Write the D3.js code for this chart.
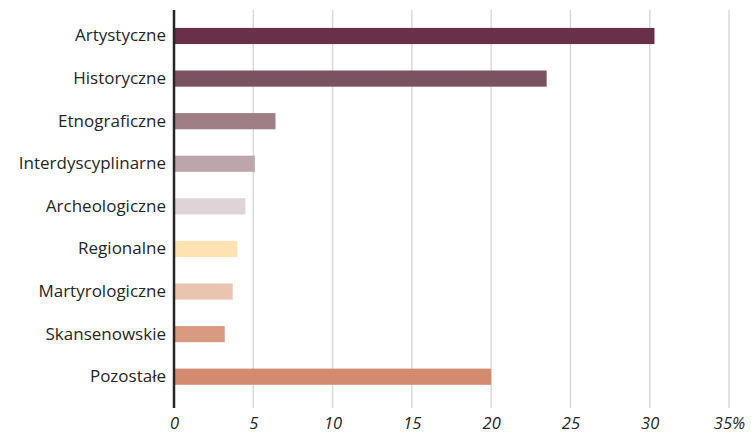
<!DOCTYPE html>
<html>
<head>
<meta charset="utf-8">
<script src="https://cdn.jsdelivr.net/npm/d3@7"></script>
<style>
  html, body { margin: 0; padding: 0; background: #fff; }
  svg { display: block; }
</style>
</head>
<body>
<div id="chart"></div>
<script>
// Museum types and their share (%)
const categories = ['Artystyczne', 'Historyczne', 'Etnograficzne', 'Interdyscyplinarne',
  'Archeologiczne', 'Regionalne', 'Martyrologiczne', 'Skansenowskie', 'Pozostałe'];
const values = [30.3, 23.5, 6.4, 5.1, 4.5, 4.0, 3.7, 3.2, 20.0];
const barColors = ['#69304a', '#7b5262', '#a07e86', '#bca6ab', '#ded4d7',
  '#fee2b2', '#e9c4af', '#d99a82', '#d48a6e'];
const tickValues = [0, 5, 10, 15, 20, 25, 30, 35];

const width = 751;
const height = 434;
const margin = { top: 10, right: 22, bottom: 26, left: 174 };
const fontFamily = '"Open Sans", "DejaVu Sans", sans-serif';

const svg = d3.select('#chart').append('svg')
  .attr('width', width)
  .attr('height', height)
  .style('font-family', fontFamily);

const x = d3.scaleLinear()
  .domain([0, 35])
  .range([margin.left, 729]);

const y = d3.scaleBand()
  .domain(categories)
  .range([14.7, 398])
  .paddingInner(0.62)
  .paddingOuter(0.31);

// Vertical gridlines
svg.append('g')
  .selectAll('line')
  .data(tickValues.filter(d => d > 0))
  .join('line')
  .attr('x1', d => x(d))
  .attr('x2', d => x(d))
  .attr('y1', margin.top)
  .attr('y2', 408)
  .attr('stroke', '#d9d9d9')
  .attr('stroke-width', 1.5);

// Bars
svg.append('g')
  .selectAll('rect')
  .data(values)
  .join('rect')
  .attr('x', x(0))
  .attr('y', (d, i) => y(categories[i]))
  .attr('width', d => x(d) - x(0))
  .attr('height', y.bandwidth())
  .attr('fill', (d, i) => barColors[i]);

// Category axis (left)
const yAxis = svg.append('g')
  .attr('transform', `translate(${x(0)},0)`)
  .call(d3.axisLeft(y).tickSize(0).tickPadding(8));
yAxis.select('.domain').remove();
yAxis.selectAll('text')
  .attr('font-size', 17)
  .attr('font-family', fontFamily)
  .attr('fill', '#262626');

svg.append('line')
  .attr('x1', x(0))
  .attr('x2', x(0))
  .attr('y1', margin.top)
  .attr('y2', 408)
  .attr('stroke', '#262626')
  .attr('stroke-width', 2.5);

// Value axis (bottom)
const xAxis = svg.append('g')
  .attr('transform', 'translate(0,408)')
  .call(d3.axisBottom(x)
    .tickValues(tickValues)
    .tickSize(0)
    .tickPadding(9)
    .tickFormat(d => d === 35 ? '35%' : d));
xAxis.select('.domain').remove();
xAxis.selectAll('text')
  .attr('font-size', 16.5)
  .attr('font-style', 'italic')
  .attr('font-family', fontFamily)
  .attr('fill', '#262626');
</script>
</body>
</html>
